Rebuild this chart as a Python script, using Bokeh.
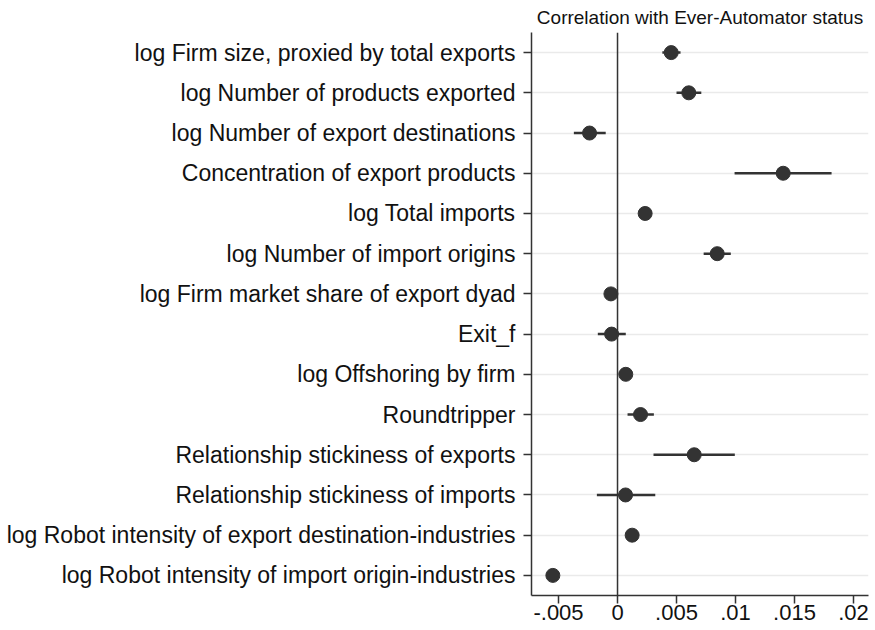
from bokeh.plotting import figure
from bokeh.models import FactorRange, Range1d, FixedTicker, Span, ColumnDataSource
from bokeh.embed import file_html
from bokeh.resources import INLINE

labels = [
    "log Firm size, proxied by total exports",
    "log Number of products exported",
    "log Number of export destinations",
    "Concentration of export products",
    "log Total imports",
    "log Number of import origins",
    "log Firm market share of export dyad",
    "Exit_f",
    "log Offshoring by firm",
    "Roundtripper",
    "Relationship stickiness of exports",
    "Relationship stickiness of imports",
    "log Robot intensity of export destination-industries",
    "log Robot intensity of import origin-industries",
]
coef = [0.00455, 0.00604, -0.00237, 0.01404, 0.00234, 0.00845, -0.00056,
        -0.0005, 0.0007, 0.00195, 0.0065, 0.00068, 0.00124, -0.00548]
ci_low = [0.0038, 0.0050, -0.0037, 0.00992, 0.00200, 0.0073, -0.00080,
          -0.00167, 0.00050, 0.00085, 0.00305, -0.00175, 0.00100, -0.00570]
ci_high = [0.00534, 0.0071, -0.0010, 0.01814, 0.00268, 0.0096, -0.00032,
           0.0007, 0.00090, 0.00308, 0.00994, 0.0032, 0.00148, -0.00526]
x_ticks = [-0.005, 0, 0.005, 0.01, 0.015, 0.02]
x_tick_labels = ["-.005", "0", ".005", ".01", ".015", ".02"]

src = ColumnDataSource(dict(y=labels, coef=coef, lo=ci_low, hi=ci_high))

FONT = "Liberation Sans"
DARK = "#333333"
TXT = "#111111"

p = figure(
    width=870, height=628,
    y_range=FactorRange(factors=list(reversed(labels))),
    x_range=Range1d(-0.00729, 0.02127),
    output_backend="svg", toolbar_location=None,
    min_border_left=531, min_border_right=2, min_border_top=31, min_border_bottom=33,
    title="Correlation with Ever-Automator status",
)
p.title.text_font = FONT
p.title.text_font_size = "19px"
p.title.text_font_style = "normal"
p.title.align = "center"
p.title.text_color = TXT
p.title.offset = 0
p.title.standoff = 9

p.outline_line_color = None
p.background_fill_color = "white"

p.xgrid.grid_line_color = None
p.ygrid.grid_line_color = "#eaeaea"
p.ygrid.grid_line_width = 1.5

p.add_layout(Span(location=0, dimension="height", line_color=DARK, line_width=1.5))

p.segment(x0="lo", x1="hi", y0="y", y1="y", source=src, line_color=DARK, line_width=2.5)
p.scatter(x="coef", y="y", source=src, size=14, fill_color=DARK, line_color=DARK)

xa = p.xaxis[0]
xa.ticker = FixedTicker(ticks=x_ticks)
xa.major_label_overrides = {t: l for t, l in zip(x_ticks, x_tick_labels)}
xa.major_label_text_font = FONT
xa.major_label_text_font_size = "22px"
xa.major_label_text_color = TXT
xa.axis_line_color = DARK
xa.axis_line_width = 1.5
xa.major_tick_line_color = DARK
xa.major_tick_line_width = 1.5
xa.major_tick_out = 8
xa.major_tick_in = 0
xa.minor_tick_line_color = None
xa.major_label_standoff = 1

ya = p.yaxis[0]
ya.major_label_text_font = FONT
ya.major_label_text_font_size = "23px"
ya.major_label_text_color = TXT
ya.axis_line_color = DARK
ya.axis_line_width = 1.5
ya.major_tick_line_color = DARK
ya.major_tick_line_width = 1.5
ya.major_tick_out = 8
ya.major_tick_in = 0
ya.major_label_standoff = 8

open("out.html", "w").write(file_html(p, INLINE))
